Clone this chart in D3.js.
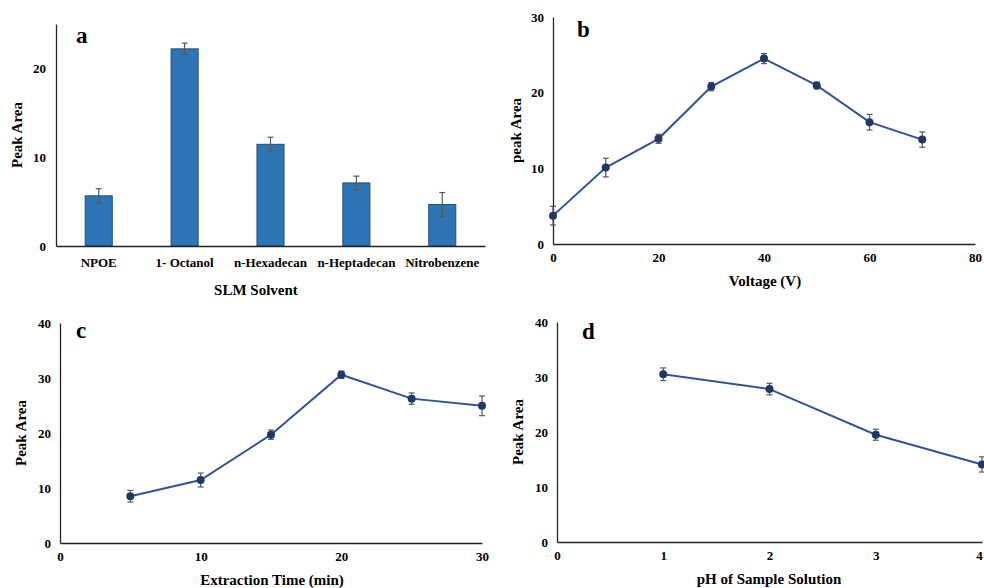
<!DOCTYPE html>
<html>
<head>
<meta charset="utf-8">
<script src="https://cdn.jsdelivr.net/npm/d3@7"></script>
<style>
  body { margin: 0; background: #fff; }
  svg text { font-family: "Liberation Serif", "Times New Roman", serif; font-weight: bold; fill: #000; }
</style>
</head>
<body>
<svg id="chart" width="984" height="588"></svg>
<script>
'use strict';

// panel a: SLM solvent
var solvents = ['NPOE', '1- Octanol', 'n-Hexadecan', 'n-Heptadecan', 'Nitrobenzene'];
var solventArea = [5.65, 22.2, 11.45, 7.1, 4.67];
var solventErr = [0.8, 0.65, 0.8, 0.77, 1.35];

// panel b: voltage
var voltage = [0, 10, 20, 30, 40, 50, 60, 70];
var voltageArea = [3.75, 10.1, 13.9, 20.8, 24.5, 20.95, 16.1, 13.8];
var voltageErr = [1.23, 1.23, 0.6, 0.55, 0.66, 0.45, 1.03, 1.01];

// panel c: extraction time
var extTime = [5, 10, 15, 20, 25, 30];
var extArea = [8.5, 11.45, 19.7, 30.6, 26.25, 24.95];
var extErr = [1.06, 1.27, 0.85, 0.67, 1.03, 1.8];

// panel d: pH
var pH = [1, 2, 3, 4];
var pHArea = [30.5, 27.8, 19.5, 14.1];
var pHErr = [1.15, 1.05, 1.0, 1.38];

var yTicksA = [0, 10, 20];
var yTicksB = [0, 10, 20, 30];
var yTicksCD = [0, 10, 20, 30, 40];
var xTicksB = [0, 20, 40, 60, 80];
var xTicksC = [0, 10, 20, 30];
var xTicksD = [0, 1, 2, 3, 4];

var svg = d3.select('#chart');
var lineColor = '#2F5597', dotColor = '#1F3864', errColor = '#595959';

function frame(opt) {
    var g = svg.append('g');
    var x = opt.x, y = opt.y;

    var ya = g.append('g').attr('transform', 'translate(' + opt.left + ',0)')
        .call(d3.axisLeft(y).tickValues(opt.yTicks).tickFormat(d3.format('d'))
            .tickSize(0).tickPadding(opt.yPad || 9).tickSizeOuter(0));
    var xAxis = d3.axisBottom(x).tickValues(opt.xTicks).tickSize(0).tickPadding(opt.xPad || 9).tickSizeOuter(0);
    if (!x.bandwidth) xAxis.tickFormat(d3.format('d'));
    var xa = g.append('g').attr('transform', 'translate(0,' + opt.bottom + ')').call(xAxis);

    [ya, xa].forEach(function (a) {
        a.select('.domain').attr('stroke', '#222').attr('stroke-width', 1.3);
        a.attr('font-family', null);
        a.selectAll('text').style('font-size', '13px');
    });
    // keep the last tick label inside the page
    if (opt.lastTickShift) xa.selectAll('.tick text').filter(function (d) { return d === opt.xTicks[opt.xTicks.length - 1]; })
        .attr('dx', opt.lastTickShift);

    g.append('text').attr('transform', 'translate(' + opt.yLabelX + ',' + (y.range()[0] + y.range()[1]) / 2 + ') rotate(-90)')
        .attr('text-anchor', 'middle').style('font-size', '15px').text(opt.yLabel);
    g.append('text').attr('x', opt.xLabelX).attr('y', opt.xLabelY)
        .attr('text-anchor', 'middle').style('font-size', '15px').text(opt.xLabel);
    g.append('text').attr('x', opt.tagX).attr('y', opt.tagY).style('font-size', '23px').text(opt.tag);
    return g;
}

function errorBars(g, xs, ys, es, x, y, cap) {
    var eg = g.append('g').attr('stroke', errColor).attr('stroke-width', 1.2);
    xs.forEach(function (xv, i) {
        var cx = x(xv), lo = y(ys[i] - es[i]), hi = y(ys[i] + es[i]);
        eg.append('line').attr('x1', cx).attr('x2', cx).attr('y1', lo).attr('y2', hi);
        eg.append('line').attr('x1', cx - cap).attr('x2', cx + cap).attr('y1', lo).attr('y2', lo);
        eg.append('line').attr('x1', cx - cap).attr('x2', cx + cap).attr('y1', hi).attr('y2', hi);
    });
}

function linePanel(opt) {
    var g = frame(opt);
    var x = opt.x, y = opt.y;
    var pts = opt.xs.map(function (v, i) { return [v, opt.ys[i]]; });
    g.append('path').datum(pts).attr('fill', 'none').attr('stroke', lineColor).attr('stroke-width', 2)
        .attr('d', d3.line().x(function (d) { return x(d[0]); }).y(function (d) { return y(d[1]); }));
    errorBars(g, opt.xs, opt.ys, opt.es, x, y, 3);
    g.selectAll('circle.pt').data(pts).enter().append('circle')
        .attr('cx', function (d) { return x(d[0]); }).attr('cy', function (d) { return y(d[1]); })
        .attr('r', 4).attr('fill', dotColor);
}

// ---- a: bars
(function () {
    var x = d3.scaleBand().domain(solvents).range([56, 485]).paddingInner(0.685).paddingOuter(0.34);
    var y = d3.scaleLinear().domain([0, 25]).range([246, 24]);
    var g = frame({
        x: x, y: y, left: 56, bottom: 246, yTicks: yTicksA, xTicks: solvents, xPad: 12, yPad: 10,
        yLabel: 'Peak Area', yLabelX: 22, xLabel: 'SLM Solvent', xLabelX: 256, xLabelY: 295,
        tag: 'a', tagX: 76, tagY: 43
    });
    g.insert('g', ':first-child').selectAll('rect').data(solvents).enter().append('rect')
        .attr('x', function (d) { return x(d); }).attr('width', x.bandwidth())
        .attr('y', function (d, i) { return y(solventArea[i]); })
        .attr('height', function (d, i) { return 246 - y(solventArea[i]); })
        .attr('fill', '#2E75B6').attr('stroke', '#1F4E79').attr('stroke-width', 1);
    var xc = function (d) { return x(d) + x.bandwidth() / 2; };
    errorBars(g, solvents, solventArea, solventErr, xc, y, 3);
})();

// ---- b: voltage
linePanel({
    x: d3.scaleLinear().domain([0, 80]).range([553, 975]),
    y: d3.scaleLinear().domain([0, 30]).range([244, 17]),
    left: 553, bottom: 244, yTicks: yTicksB, xTicks: xTicksB,
    xs: voltage, ys: voltageArea, es: voltageErr,
    yLabel: 'peak Area', yLabelX: 521, xLabel: 'Voltage (V)', xLabelX: 765, xLabelY: 286,
    tag: 'b', tagX: 577, tagY: 37
});

// ---- c: extraction time
linePanel({
    x: d3.scaleLinear().domain([0, 30]).range([60, 482]),
    y: d3.scaleLinear().domain([0, 40]).range([543, 323]),
    left: 60, bottom: 543, yTicks: yTicksCD, xTicks: xTicksC,
    xs: extTime, ys: extArea, es: extErr,
    yLabel: 'Peak Area', yLabelX: 26, xLabel: 'Extraction Time (min)', xLabelX: 272, xLabelY: 585,
    tag: 'c', tagX: 76, tagY: 338
});

// ---- d: pH
linePanel({
    x: d3.scaleLinear().domain([0, 4]).range([557, 982]),
    y: d3.scaleLinear().domain([0, 40]).range([542, 322]),
    left: 557, bottom: 542, yTicks: yTicksCD, xTicks: xTicksD, lastTickShift: -3,
    xs: pH, ys: pHArea, es: pHErr,
    yLabel: 'Peak Area', yLabelX: 523, xLabel: 'pH of Sample Solution', xLabelX: 769, xLabelY: 584,
    tag: 'd', tagX: 582, tagY: 339
});
</script>
</body>
</html>
